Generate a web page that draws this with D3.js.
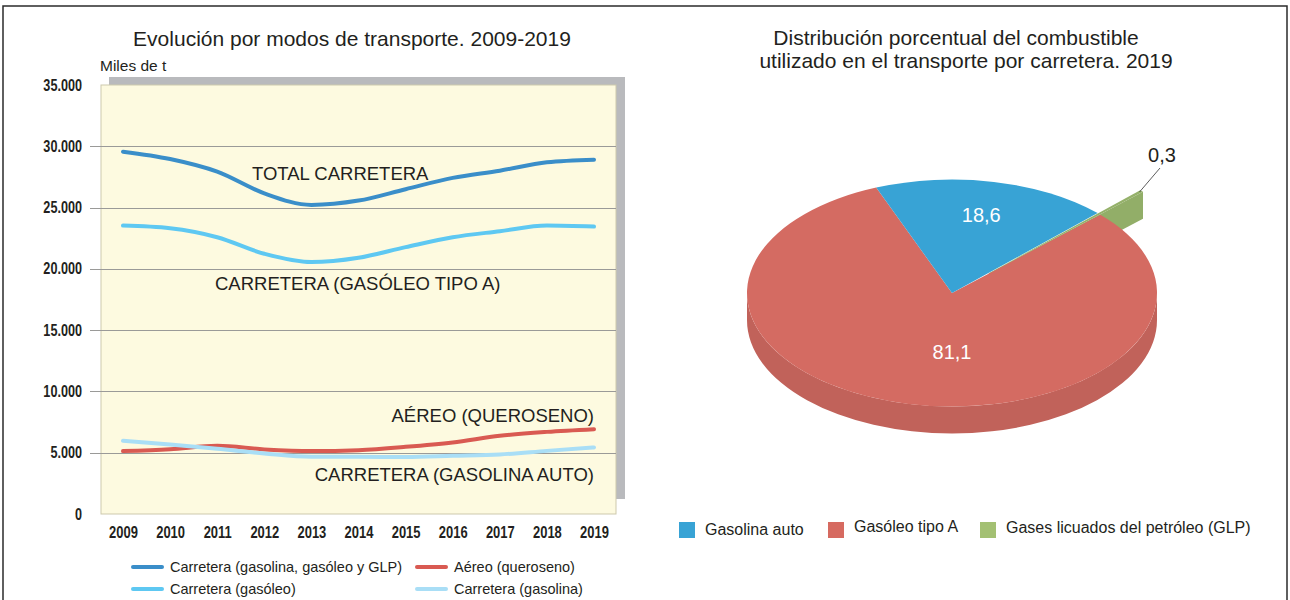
<!DOCTYPE html>
<html>
<head>
<meta charset="utf-8">
<script src="https://cdn.jsdelivr.net/npm/d3@7"></script>
<style>
  html, body { margin: 0; padding: 0; background: #fff; }
  svg { display: block; font-family: "Liberation Sans", Arial, sans-serif; }
</style>
</head>
<body>
<svg id="chart" width="1290" height="600"></svg>
<script>
// --- data ---
const years = [2009, 2010, 2011, 2012, 2013, 2014, 2015, 2016, 2017, 2018, 2019];
const totalCarretera = [29560, 28960, 27930, 26160, 25220, 25570, 26500, 27420, 28010, 28690, 28910];
const carreteraGasoleo = [23530, 23310, 22580, 21230, 20550, 20900, 21770, 22580, 23070, 23530, 23450];
const aereoQueroseno = [5130, 5290, 5560, 5270, 5130, 5210, 5480, 5840, 6380, 6700, 6920];
const carreteraGasolina = [5970, 5670, 5320, 4940, 4670, 4670, 4650, 4750, 4860, 5150, 5430];
const yTicks = [0, 5000, 10000, 15000, 20000, 25000, 30000, 35000];

const lineSeries = [
  { key: 'total', name: 'Carretera (gasolina, gasóleo y GLP)', values: totalCarretera, color: '#3a8ec9' },
  { key: 'aereo', name: 'Aéreo (queroseno)', values: aereoQueroseno, color: '#d95a52' },
  { key: 'gasoleo', name: 'Carretera (gasóleo)', values: carreteraGasoleo, color: '#5ec8f2' },
  { key: 'gasolina', name: 'Carretera (gasolina)', values: carreteraGasolina, color: '#a9def6' },
];
const lineDrawOrder = ['total', 'gasoleo', 'aereo', 'gasolina'];
const lineNotes = ['TOTAL CARRETERA', 'CARRETERA (GASÓLEO TIPO A)', 'AÉREO (QUEROSENO)', 'CARRETERA (GASOLINA AUTO)'];

const fuelNames = ['Gasolina auto', 'Gasóleo tipo A', 'Gases licuados del petróleo (GLP)'];
const fuelShares = [18.6, 81.1, 0.3];
const fuelColors = ['#38a3d5', '#d46b62', '#95b16a'];
const fuelLegendColors = ['#38a3d5', '#d66a60', '#a3c073'];
const fuelSideColors = ['#2f8bb8', '#c1625a', '#92ae68'];
const pieOrder = [0, 2, 1]; // clockwise order of the slices

const svg = d3.select('#chart');
const fmt = d3.formatLocale({ decimal: ',', thousands: '.', grouping: [3], currency: ['', ''] });

// frame
svg.append('path').attr('d', 'M3,600V6H1287V600').attr('fill', 'none').attr('stroke', '#2b2b2b').attr('stroke-width', 1.5);

// ---------------- left: lines ----------------
const plot = { left: 101, right: 616, top: 85, bottom: 514 };
const x = d3.scaleLinear().domain([2009, 2019]).range([123, 594]);
const y = d3.scaleLinear().domain([0, 35000]).range([plot.bottom, plot.top]);

svg.append('text').attr('x', 352).attr('y', 46).attr('text-anchor', 'middle')
  .attr('font-size', 21).attr('fill', '#231f20').text('Evolución por modos de transporte. 2009-2019');
svg.append('text').attr('x', 100).attr('y', 71).attr('font-size', 15.5).attr('fill', '#231f20').text('Miles de t');

svg.append('rect').attr('x', plot.left + 8).attr('y', plot.top - 8)
  .attr('width', plot.right - plot.left + 1).attr('height', plot.bottom - plot.top - 7).attr('fill', '#b9babd');
svg.append('rect').attr('x', plot.left).attr('y', plot.top)
  .attr('width', plot.right - plot.left).attr('height', plot.bottom - plot.top)
  .attr('fill', '#fdfae0').attr('stroke', '#cdc9ad').attr('stroke-width', 1);

// condensed bold tick labels (no narrow face installed, so squeeze horizontally)
const yAxis = d3.axisLeft(y).tickValues(yTicks).tickSize(0).tickPadding(0).tickFormat(d => fmt.format(',')(d));
const yg = svg.append('g').attr('transform', 'translate(82,0)').call(yAxis);
yg.select('.domain').remove();
yg.selectAll('text').attr('font-weight', 'bold').attr('font-size', 16).attr('fill', '#231f20')
  .attr('transform', 'scale(0.79,1)');

svg.append('g').selectAll('line').data(yTicks.filter(t => t > 0 && t < 35000)).join('line')
  .attr('x1', 90).attr('x2', plot.right).attr('y1', d => Math.round(y(d)) + 0.5).attr('y2', d => Math.round(y(d)) + 0.5)
  .attr('stroke', '#9a9a98').attr('stroke-width', 1);

const xAxis = d3.axisBottom(x).tickValues(years).tickFormat(d3.format('d')).tickSize(0).tickPadding(0);
const xg = svg.append('g').attr('transform', 'translate(0,527)').call(xAxis);
xg.select('.domain').remove();
xg.selectAll('text').attr('font-weight', 'bold').attr('font-size', 16).attr('fill', '#231f20')
  .attr('transform', 'scale(0.81,1)');

const line = d3.line().x((d, i) => x(years[i])).y(d => y(d)).curve(d3.curveMonotoneX);
svg.append('g').selectAll('path').data(lineDrawOrder.map(k => lineSeries.find(s => s.key === k))).join('path')
  .attr('d', d => line(d.values)).attr('fill', 'none').attr('stroke', d => d.color)
  .attr('stroke-width', 4).attr('stroke-linecap', 'round').attr('stroke-linejoin', 'round');

const notes = svg.append('g').attr('font-size', 18.5).attr('fill', '#231f20');
notes.append('text').attr('x', 252).attr('y', 180).text(lineNotes[0]);
notes.append('text').attr('x', 215).attr('y', 290).text(lineNotes[1]);
notes.append('text').attr('x', 594).attr('y', 422).attr('text-anchor', 'end').text(lineNotes[2]);
notes.append('text').attr('x', 594).attr('y', 481).attr('text-anchor', 'end').text(lineNotes[3]);

const lg = svg.append('g').attr('font-size', 14.5).attr('fill', '#231f20');
const legendPos = [[133, 567], [417, 567], [133, 589], [417, 589]];
lineSeries.forEach((s, i) => {
  const [lx, ly] = legendPos[i];
  lg.append('line').attr('x1', lx).attr('x2', lx + 29).attr('y1', ly).attr('y2', ly)
    .attr('stroke', s.color).attr('stroke-width', 4).attr('stroke-linecap', 'round');
  lg.append('text').attr('x', lx + 37).attr('y', ly + 5).text(s.name);
});

// ---------------- right: 3D pie ----------------
const titleR = svg.append('g').attr('font-size', 21).attr('fill', '#231f20').attr('text-anchor', 'middle');
titleR.append('text').attr('x', 956).attr('y', 45).text('Distribución porcentual del combustible');
titleR.append('text').attr('x', 966).attr('y', 68).text('utilizado en el transporte por carretera. 2019');

const cx = 952, cy = 293, rx = 205, ry = 113.5, depth = 27;
const k = ry / rx, D = depth / k;
const explode = 0.25, explodeGrow = 1.04;
const blueStart = -21.7 * Math.PI / 180;
const pie = d3.pie().value(i => fuelShares[i]).sort(null)
  .startAngle(blueStart).endAngle(blueStart + 2 * Math.PI);
const arcs = pie(pieOrder).map(a => ({ ...a, idx: a.data }));
const isSmall = a => fuelShares[a.idx] <= 1;
const radiusOf = a => isSmall(a) ? rx * explodeGrow : rx;
const arc = d3.arc().innerRadius(0).outerRadius(radiusOf);

const pieG = svg.append('g').attr('transform', `translate(${cx},${cy}) scale(1,${k})`);
function offsetOf(a) {
  if (!isSmall(a)) return [0, 0];
  const m = (a.startAngle + a.endAngle) / 2;
  return [explode * rx * Math.sin(m), -explode * rx * Math.cos(m)];
}

// side walls
arcs.forEach(a => {
  const [ox, oy] = offsetOf(a);
  if (!isSmall(a) && a.endAngle - a.startAngle > Math.PI) {
    const p = d3.path();
    p.moveTo(rx, 0); p.arc(0, 0, rx, 0, Math.PI, false);
    p.lineTo(-rx, D); p.arc(0, D, rx, Math.PI, 0, true); p.closePath();
    pieG.append('path').attr('d', p.toString()).attr('fill', fuelSideColors[a.idx]);
  } else if (isSmall(a)) {
    const a1 = a.endAngle, r = radiusOf(a);
    const ex = ox + r * Math.sin(a1), ey = oy - r * Math.cos(a1);
    const p = d3.path();
    p.moveTo(ox, oy); p.lineTo(ex, ey); p.lineTo(ex, ey + D); p.lineTo(ox, oy + D); p.closePath();
    pieG.append('path').attr('d', p.toString()).attr('fill', fuelSideColors[a.idx]);
  }
});
// top faces: big slices first, exploded slice last
arcs.slice().sort((a, b) => fuelShares[b.idx] - fuelShares[a.idx]).forEach(a => {
  const [ox, oy] = offsetOf(a);
  pieG.append('path').attr('d', arc(a)).attr('transform', `translate(${ox},${oy})`).attr('fill', fuelColors[a.idx]);
});

// labels: minor slice along its bisector, the majority slice at the front of the disc
const labelR = [0.7, 0.52, 0];
arcs.forEach(a => {
  if (isSmall(a)) return;
  const m = a.endAngle - a.startAngle > Math.PI ? Math.PI : (a.startAngle + a.endAngle) / 2;
  svg.append('text').attr('x', cx + labelR[a.idx] * rx * Math.sin(m)).attr('y', cy - labelR[a.idx] * ry * Math.cos(m) + 7)
    .attr('text-anchor', 'middle').attr('font-size', 20).attr('fill', '#fff')
    .text(fmt.format(',.1f')(fuelShares[a.idx]));
});
const small = arcs.find(isSmall);
{
  const [ox, oy] = offsetOf(small);
  const m = (small.startAngle + small.endAngle) / 2, r = radiusOf(small);
  const tx = cx + ox + r * Math.sin(m), ty = cy + (oy - r * Math.cos(m)) * k;
  svg.append('line').attr('x1', tx - 2).attr('y1', ty + 1).attr('x2', 1160).attr('y2', 168)
    .attr('stroke', '#333').attr('stroke-width', 0.8);
  svg.append('text').attr('x', 1162).attr('y', 162).attr('text-anchor', 'middle').attr('font-size', 20)
    .attr('fill', '#231f20').text(fmt.format(',.1f')(fuelShares[small.idx]));
}

// pie legend
const pl = svg.append('g').attr('font-size', 16).attr('fill', '#231f20');
const plX = [679, 828, 980], plTextY = [535, 532, 533];
fuelNames.forEach((n, i) => {
  pl.append('rect').attr('x', plX[i]).attr('y', 522).attr('width', 16).attr('height', 16).attr('fill', fuelLegendColors[i]);
  pl.append('text').attr('x', plX[i] + 26).attr('y', plTextY[i]).text(n);
});
</script>
</body>
</html>
